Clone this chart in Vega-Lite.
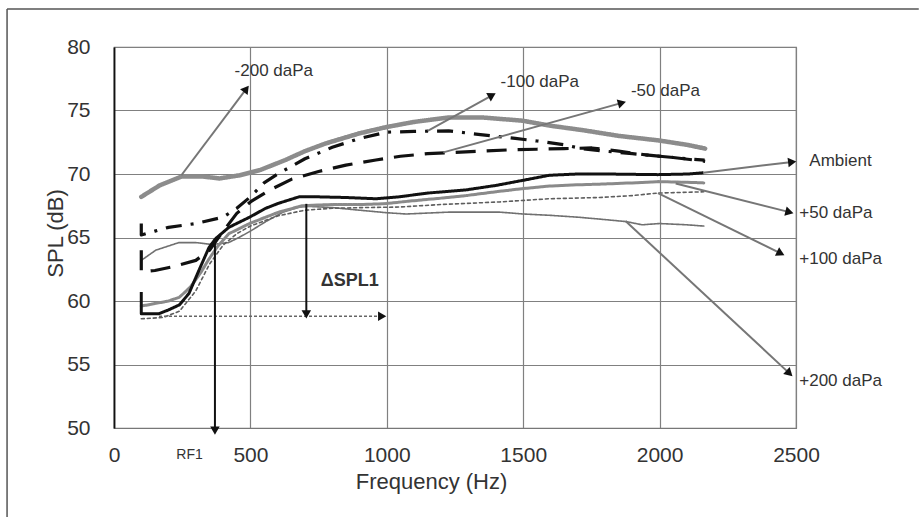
{
  "$schema": "https://vega.github.io/schema/vega-lite/v6.json",
  "width": 682,
  "height": 381,
  "autosize": "none",
  "padding": {"left": 114, "top": 47, "right": 123, "bottom": 91},
  "background": "white",
  "config": {
    "font": "Liberation Sans",
    "view": {"stroke": "#777", "strokeWidth": 1.2},
    "axis": {
      "gridColor": "#808080", "gridWidth": 1.2, "gridOpacity": 1, "ticks": false,
      "labelColor": "#333", "titleColor": "#333", "labelFontSize": 21, "titleFontSize": 22,
      "titleFontWeight": "normal", "labelFont": "Liberation Sans", "titleFont": "Liberation Sans"
    }
  },
  "datasets": {
    "curves": [
      {"series": "-200 daPa", "f": 100, "db": 68.2}, {"series": "-200 daPa", "f": 167, "db": 69.1}, {"series": "-200 daPa", "f": 247, "db": 69.8}, {"series": "-200 daPa", "f": 326, "db": 69.8}, {"series": "-200 daPa", "f": 387, "db": 69.65}, {"series": "-200 daPa", "f": 461, "db": 69.9}, {"series": "-200 daPa", "f": 534, "db": 70.3}, {"series": "-200 daPa", "f": 628, "db": 71.1}, {"series": "-200 daPa", "f": 700, "db": 71.8}, {"series": "-200 daPa", "f": 775, "db": 72.4}, {"series": "-200 daPa", "f": 900, "db": 73.2}, {"series": "-200 daPa", "f": 1000, "db": 73.7}, {"series": "-200 daPa", "f": 1100, "db": 74.1}, {"series": "-200 daPa", "f": 1227, "db": 74.45}, {"series": "-200 daPa", "f": 1350, "db": 74.45}, {"series": "-200 daPa", "f": 1496, "db": 74.2}, {"series": "-200 daPa", "f": 1600, "db": 73.8}, {"series": "-200 daPa", "f": 1719, "db": 73.45}, {"series": "-200 daPa", "f": 1850, "db": 73.0}, {"series": "-200 daPa", "f": 1994, "db": 72.65}, {"series": "-200 daPa", "f": 2100, "db": 72.3}, {"series": "-200 daPa", "f": 2167, "db": 72.0},
      {"series": "+200 daPa", "f": 100, "db": 63.2}, {"series": "+200 daPa", "f": 153, "db": 64.0}, {"series": "+200 daPa", "f": 238, "db": 64.6}, {"series": "+200 daPa", "f": 300, "db": 64.6}, {"series": "+200 daPa", "f": 360, "db": 64.45}, {"series": "+200 daPa", "f": 420, "db": 64.6}, {"series": "+200 daPa", "f": 458, "db": 65.0}, {"series": "+200 daPa", "f": 500, "db": 65.5}, {"series": "+200 daPa", "f": 560, "db": 66.3}, {"series": "+200 daPa", "f": 620, "db": 67.0}, {"series": "+200 daPa", "f": 680, "db": 67.4}, {"series": "+200 daPa", "f": 714, "db": 67.45}, {"series": "+200 daPa", "f": 803, "db": 67.35}, {"series": "+200 daPa", "f": 900, "db": 67.15}, {"series": "+200 daPa", "f": 1000, "db": 66.95}, {"series": "+200 daPa", "f": 1071, "db": 66.85}, {"series": "+200 daPa", "f": 1230, "db": 67.0}, {"series": "+200 daPa", "f": 1413, "db": 67.0}, {"series": "+200 daPa", "f": 1500, "db": 66.85}, {"series": "+200 daPa", "f": 1596, "db": 66.75}, {"series": "+200 daPa", "f": 1700, "db": 66.6}, {"series": "+200 daPa", "f": 1780, "db": 66.45}, {"series": "+200 daPa", "f": 1878, "db": 66.25}, {"series": "+200 daPa", "f": 1936, "db": 66.0}, {"series": "+200 daPa", "f": 2000, "db": 66.1}, {"series": "+200 daPa", "f": 2100, "db": 66.0}, {"series": "+200 daPa", "f": 2162, "db": 65.9},
      {"series": "+100 daPa", "f": 100, "db": 58.6}, {"series": "+100 daPa", "f": 180, "db": 58.7}, {"series": "+100 daPa", "f": 240, "db": 59.2}, {"series": "+100 daPa", "f": 300, "db": 60.8}, {"series": "+100 daPa", "f": 350, "db": 62.9}, {"series": "+100 daPa", "f": 400, "db": 64.4}, {"series": "+100 daPa", "f": 450, "db": 65.3}, {"series": "+100 daPa", "f": 500, "db": 65.9}, {"series": "+100 daPa", "f": 600, "db": 66.7}, {"series": "+100 daPa", "f": 700, "db": 67.15}, {"series": "+100 daPa", "f": 800, "db": 67.3}, {"series": "+100 daPa", "f": 900, "db": 67.35}, {"series": "+100 daPa", "f": 1047, "db": 67.4}, {"series": "+100 daPa", "f": 1200, "db": 67.6}, {"series": "+100 daPa", "f": 1413, "db": 67.8}, {"series": "+100 daPa", "f": 1594, "db": 68.05}, {"series": "+100 daPa", "f": 1780, "db": 68.15}, {"series": "+100 daPa", "f": 1900, "db": 68.3}, {"series": "+100 daPa", "f": 1994, "db": 68.5}, {"series": "+100 daPa", "f": 2162, "db": 68.6},
      {"series": "+50 daPa", "f": 100, "db": 59.6}, {"series": "+50 daPa", "f": 150, "db": 59.8}, {"series": "+50 daPa", "f": 200, "db": 60.0}, {"series": "+50 daPa", "f": 240, "db": 60.3}, {"series": "+50 daPa", "f": 280, "db": 61.1}, {"series": "+50 daPa", "f": 320, "db": 62.3}, {"series": "+50 daPa", "f": 348, "db": 63.3}, {"series": "+50 daPa", "f": 380, "db": 64.3}, {"series": "+50 daPa", "f": 421, "db": 65.3}, {"series": "+50 daPa", "f": 497, "db": 66.1}, {"series": "+50 daPa", "f": 604, "db": 67.0}, {"series": "+50 daPa", "f": 690, "db": 67.5}, {"series": "+50 daPa", "f": 800, "db": 67.6}, {"series": "+50 daPa", "f": 900, "db": 67.6}, {"series": "+50 daPa", "f": 986, "db": 67.65}, {"series": "+50 daPa", "f": 1100, "db": 67.9}, {"series": "+50 daPa", "f": 1200, "db": 68.1}, {"series": "+50 daPa", "f": 1291, "db": 68.3}, {"series": "+50 daPa", "f": 1400, "db": 68.6}, {"series": "+50 daPa", "f": 1499, "db": 68.85}, {"series": "+50 daPa", "f": 1596, "db": 69.05}, {"series": "+50 daPa", "f": 1700, "db": 69.15}, {"series": "+50 daPa", "f": 1780, "db": 69.2}, {"series": "+50 daPa", "f": 1900, "db": 69.3}, {"series": "+50 daPa", "f": 1994, "db": 69.4}, {"series": "+50 daPa", "f": 2100, "db": 69.35}, {"series": "+50 daPa", "f": 2162, "db": 69.3},
      {"series": "-100 daPa", "f": 100, "db": 66.1}, {"series": "-100 daPa", "f": 100, "db": 65.2}, {"series": "-100 daPa", "f": 150, "db": 65.5}, {"series": "-100 daPa", "f": 200, "db": 65.8}, {"series": "-100 daPa", "f": 300, "db": 66.1}, {"series": "-100 daPa", "f": 400, "db": 66.6}, {"series": "-100 daPa", "f": 450, "db": 67.3}, {"series": "-100 daPa", "f": 500, "db": 68.2}, {"series": "-100 daPa", "f": 550, "db": 69.3}, {"series": "-100 daPa", "f": 600, "db": 70.0}, {"series": "-100 daPa", "f": 700, "db": 71.2}, {"series": "-100 daPa", "f": 800, "db": 72.1}, {"series": "-100 daPa", "f": 900, "db": 72.8}, {"series": "-100 daPa", "f": 1000, "db": 73.3}, {"series": "-100 daPa", "f": 1100, "db": 73.35}, {"series": "-100 daPa", "f": 1227, "db": 73.4}, {"series": "-100 daPa", "f": 1343, "db": 73.1}, {"series": "-100 daPa", "f": 1471, "db": 72.8}, {"series": "-100 daPa", "f": 1551, "db": 72.6}, {"series": "-100 daPa", "f": 1650, "db": 72.3}, {"series": "-100 daPa", "f": 1716, "db": 72.0}, {"series": "-100 daPa", "f": 1800, "db": 71.8}, {"series": "-100 daPa", "f": 1900, "db": 71.6}, {"series": "-100 daPa", "f": 2000, "db": 71.4}, {"series": "-100 daPa", "f": 2100, "db": 71.2}, {"series": "-100 daPa", "f": 2165, "db": 71.1},
      {"series": "-50 daPa", "f": 100, "db": 64.0}, {"series": "-50 daPa", "f": 100, "db": 62.3}, {"series": "-50 daPa", "f": 150, "db": 62.4}, {"series": "-50 daPa", "f": 216, "db": 62.7}, {"series": "-50 daPa", "f": 300, "db": 63.2}, {"series": "-50 daPa", "f": 350, "db": 64.0}, {"series": "-50 daPa", "f": 390, "db": 65.2}, {"series": "-50 daPa", "f": 450, "db": 66.9}, {"series": "-50 daPa", "f": 500, "db": 67.8}, {"series": "-50 daPa", "f": 568, "db": 68.7}, {"series": "-50 daPa", "f": 652, "db": 69.6}, {"series": "-50 daPa", "f": 750, "db": 70.2}, {"series": "-50 daPa", "f": 850, "db": 70.7}, {"series": "-50 daPa", "f": 960, "db": 71.1}, {"series": "-50 daPa", "f": 1050, "db": 71.4}, {"series": "-50 daPa", "f": 1150, "db": 71.6}, {"series": "-50 daPa", "f": 1250, "db": 71.7}, {"series": "-50 daPa", "f": 1350, "db": 71.8}, {"series": "-50 daPa", "f": 1450, "db": 71.9}, {"series": "-50 daPa", "f": 1550, "db": 71.95}, {"series": "-50 daPa", "f": 1650, "db": 72.0}, {"series": "-50 daPa", "f": 1752, "db": 72.05}, {"series": "-50 daPa", "f": 1850, "db": 71.8}, {"series": "-50 daPa", "f": 1950, "db": 71.5}, {"series": "-50 daPa", "f": 2050, "db": 71.3}, {"series": "-50 daPa", "f": 2167, "db": 71.0},
      {"series": "Ambient", "f": 100, "db": 60.7}, {"series": "Ambient", "f": 100, "db": 59.0}, {"series": "Ambient", "f": 165, "db": 59.0}, {"series": "Ambient", "f": 200, "db": 59.3}, {"series": "Ambient", "f": 240, "db": 59.7}, {"series": "Ambient", "f": 275, "db": 60.6}, {"series": "Ambient", "f": 311, "db": 62.4}, {"series": "Ambient", "f": 348, "db": 64.2}, {"series": "Ambient", "f": 372, "db": 64.9}, {"series": "Ambient", "f": 421, "db": 65.8}, {"series": "Ambient", "f": 497, "db": 66.6}, {"series": "Ambient", "f": 556, "db": 67.3}, {"series": "Ambient", "f": 604, "db": 67.7}, {"series": "Ambient", "f": 678, "db": 68.2}, {"series": "Ambient", "f": 751, "db": 68.2}, {"series": "Ambient", "f": 850, "db": 68.15}, {"series": "Ambient", "f": 959, "db": 68.05}, {"series": "Ambient", "f": 1044, "db": 68.2}, {"series": "Ambient", "f": 1150, "db": 68.5}, {"series": "Ambient", "f": 1291, "db": 68.75}, {"series": "Ambient", "f": 1400, "db": 69.1}, {"series": "Ambient", "f": 1499, "db": 69.5}, {"series": "Ambient", "f": 1596, "db": 69.9}, {"series": "Ambient", "f": 1700, "db": 70.0}, {"series": "Ambient", "f": 1800, "db": 70.0}, {"series": "Ambient", "f": 1994, "db": 69.95}, {"series": "Ambient", "f": 2106, "db": 70.0}, {"series": "Ambient", "f": 2161, "db": 70.1}
    ],
    "frame": [
      {"f": -392, "db": 83.0, "f2": 2950, "db2": 83.0},
      {"f": -392, "db": 83.0, "f2": -392, "db2": 43.0}
    ],
    "arrows": [
      {"name": "-200 daPa", "f": 247, "db": 69.9, "f2": 485, "db2": 76.7},
      {"name": "-100 daPa", "f": 1150, "db": 73.4, "f2": 1386, "db2": 76.2},
      {"name": "-50 daPa", "f": 1207, "db": 71.7, "f2": 1862, "db2": 75.6},
      {"name": "Ambient", "f": 2160, "db": 70.1, "f2": 2486, "db2": 70.95},
      {"name": "+50 daPa", "f": 2059, "db": 69.25, "f2": 2476, "db2": 67.0},
      {"name": "+100 daPa", "f": 1994, "db": 68.5, "f2": 2444, "db2": 63.75},
      {"name": "+200 daPa", "f": 1875, "db": 66.3, "f2": 2476, "db2": 54.3}
    ],
    "baseline": [
      {"name": "baseline", "f": 165, "db": 58.8, "f2": 983, "db2": 58.8}
    ],
    "markers": [
      {"name": "RF1", "f": 370, "db": 64.8, "f2": 370, "db2": 49.8},
      {"name": "ΔSPL1", "f": 705, "db": 67.65, "f2": 705, "db2": 58.95}
    ],
    "heads": [
      {"name": "-200 daPa", "f": 485, "db": 76.7},
      {"name": "-100 daPa", "f": 1386, "db": 76.2},
      {"name": "-50 daPa", "f": 1862, "db": 75.6},
      {"name": "Ambient", "f": 2486, "db": 70.95},
      {"name": "+50 daPa", "f": 2476, "db": 67.0},
      {"name": "+100 daPa", "f": 2444, "db": 63.75},
      {"name": "+200 daPa", "f": 2476, "db": 54.3},
      {"name": "baseline", "f": 983, "db": 58.8},
      {"name": "RF1", "f": 370, "db": 49.8},
      {"name": "ΔSPL1", "f": 705, "db": 58.95}
    ],
    "labels": [
      {"label": "-200 daPa", "f": 442, "db": 78.1},
      {"label": "-100 daPa", "f": 1417, "db": 77.25},
      {"label": "-50 daPa", "f": 1895, "db": 76.5},
      {"label": "Ambient", "f": 2549, "db": 71.0},
      {"label": "+50 daPa", "f": 2512, "db": 66.95},
      {"label": "+100 daPa", "f": 2512, "db": 63.3},
      {"label": "+200 daPa", "f": 2512, "db": 53.7}
    ]
  },
  "encoding": {
    "x": {
      "field": "f", "type": "quantitative",
      "scale": {"domain": [0, 2500], "nice": false, "zero": false},
      "axis": {
        "values": [0, 500, 1000, 1500, 2000, 2500], "format": "d", "grid": true, "labelFlush": false, "labelOverlap": false,
        "labelPadding": 16, "domainColor": "#777", "domainWidth": 1.2,
        "title": "Frequency (Hz)", "titleX": 317, "titleY": 53, "titleAlign": "center", "titleBaseline": "middle"
      }
    },
    "y": {
      "field": "db", "type": "quantitative",
      "scale": {"domain": [50, 80], "nice": false, "zero": false},
      "axis": {
        "values": [50, 55, 60, 65, 70, 75, 80], "format": "d", "grid": true, "labelOverlap": false, "labelFlush": false,
        "labelPadding": 24, "domainColor": "#111", "domainWidth": 1.8,
        "title": "SPL (dB)", "titleAngle": -90, "titleX": -52, "titleY": 186, "titleAlign": "center", "titleBaseline": "alphabetic"
      }
    }
  },
  "layer": [
    {
      "data": {"name": "frame"},
      "mark": {"type": "rule", "color": "#555", "strokeWidth": 1.5},
      "encoding": {"x2": {"field": "f2"}, "y2": {"field": "db2"}}
    },
    {
      "data": {"name": "curves"},
      "transform": [{"filter": "datum.series === '-200 daPa' || datum.series === '+200 daPa' || datum.series === '+100 daPa' || datum.series === '+50 daPa'"}],
      "mark": {"type": "line", "strokeCap": "round", "strokeJoin": "round"},
      "encoding": {
        "order": {"value": null},
        "detail": {"field": "series"},
        "stroke": {"field": "series", "type": "nominal", "legend": null,
          "scale": {"domain": ["-200 daPa", "+200 daPa", "+100 daPa", "+50 daPa", "-100 daPa", "-50 daPa", "Ambient"], "range": ["#8c8c8c", "#707070", "#5e5e5e", "#8a8a8a", "#111111", "#111111", "#111111"]}},
        "strokeWidth": {"field": "series", "type": "nominal", "legend": null,
          "scale": {"type": "ordinal", "domain": ["-200 daPa", "+200 daPa", "+100 daPa", "+50 daPa", "-100 daPa", "-50 daPa", "Ambient"], "range": [4.5, 1.6, 1.6, 3, 3.2, 3.2, 3]}},
        "strokeDash": {"field": "series", "type": "nominal", "legend": null,
          "scale": {"domain": ["-200 daPa", "+200 daPa", "+100 daPa", "+50 daPa", "-100 daPa", "-50 daPa", "Ambient"], "range": [[1, 0], [1, 0], [3, 3], [4, 1], [16, 9, 3, 9], [20, 11], [1, 0]]}}
      }
    },
    {
      "data": {"name": "curves"},
      "transform": [{"filter": "datum.series === '-100 daPa' || datum.series === '-50 daPa' || datum.series === 'Ambient'"}],
      "mark": {"type": "line", "strokeJoin": "round"},
      "encoding": {
        "order": {"value": null},
        "detail": {"field": "series"},
        "stroke": {"field": "series", "type": "nominal", "legend": null,
          "scale": {"domain": ["-200 daPa", "+200 daPa", "+100 daPa", "+50 daPa", "-100 daPa", "-50 daPa", "Ambient"], "range": ["#8c8c8c", "#707070", "#5e5e5e", "#8a8a8a", "#111111", "#111111", "#111111"]}},
        "strokeWidth": {"field": "series", "type": "nominal", "legend": null,
          "scale": {"type": "ordinal", "domain": ["-200 daPa", "+200 daPa", "+100 daPa", "+50 daPa", "-100 daPa", "-50 daPa", "Ambient"], "range": [4.5, 1.6, 1.6, 3, 3.2, 3.2, 3]}},
        "strokeDash": {"field": "series", "type": "nominal", "legend": null,
          "scale": {"domain": ["-200 daPa", "+200 daPa", "+100 daPa", "+50 daPa", "-100 daPa", "-50 daPa", "Ambient"], "range": [[1, 0], [1, 0], [3, 3], [4, 1], [16, 9, 3, 9], [20, 11], [1, 0]]}}
      }
    },
    {
      "data": {"name": "arrows"},
      "mark": {"type": "rule", "color": "#767676", "strokeWidth": 2},
      "encoding": {"x2": {"field": "f2"}, "y2": {"field": "db2"}}
    },
    {
      "data": {"name": "baseline"},
      "mark": {"type": "rule", "color": "#666", "strokeWidth": 1.5, "strokeDash": [3, 2]},
      "encoding": {"x2": {"field": "f2"}, "y2": {"field": "db2"}}
    },
    {
      "data": {"name": "markers"},
      "mark": {"type": "rule", "color": "#111", "strokeWidth": 2},
      "encoding": {"x2": {"field": "f2"}, "y2": {"field": "db2"}}
    },
    {
      "data": {"name": "heads"},
      "mark": {"type": "point", "shape": "triangle-up", "filled": true, "color": "#111", "size": 90, "opacity": 1},
      "encoding": {
        "angle": {"field": "name", "type": "nominal", "legend": null,
          "scale": {"type": "ordinal",
            "domain": ["-200 daPa", "-100 daPa", "-50 daPa", "Ambient", "+50 daPa", "+100 daPa", "+200 daPa", "baseline", "RF1", "ΔSPL1"],
            "range": [37, 61, 74.5, 83, 104.5, 116, 133, 90, 180, 180]}}
      }
    },
    {
      "data": {"name": "labels"},
      "mark": {"type": "text", "align": "left", "baseline": "middle", "fontSize": 17, "color": "#333"},
      "encoding": {"text": {"field": "label"}}
    },
    {
      "data": {"values": [{"label": "ΔSPL1", "f": 758, "db": 61.6}]},
      "mark": {"type": "text", "align": "left", "baseline": "middle", "fontSize": 18, "fontWeight": "bold", "color": "#333"},
      "encoding": {"text": {"field": "label"}}
    },
    {
      "data": {"values": [{"label": "RF1", "f": 277, "db": 47.9}]},
      "mark": {"type": "text", "align": "center", "baseline": "middle", "fontSize": 14, "color": "#333"},
      "encoding": {"text": {"field": "label"}}
    }
  ]
}
